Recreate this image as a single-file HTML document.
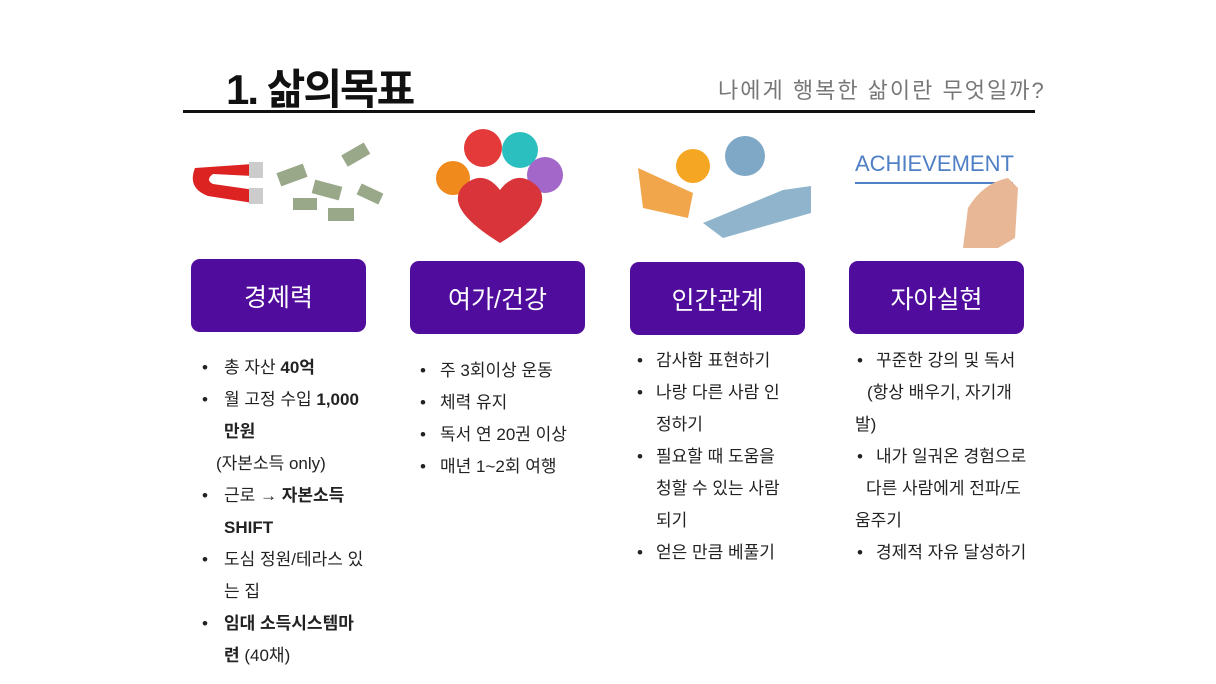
<!DOCTYPE html>
<html><head><meta charset="utf-8"><style>
body{margin:0;width:1216px;height:684px;background:#fff;position:relative;overflow:hidden;font-family:"Liberation Sans","Noto Sans CJK KR",sans-serif;color:#222}
.a{position:absolute}
.box{position:absolute;width:175px;height:73px;background:#500c9c;border-radius:9px;color:#fff;font-size:25px;display:flex;align-items:center;justify-content:center}
.l{position:absolute;font-size:17px;white-space:nowrap;line-height:20px}
.b{position:absolute;font-size:17px;line-height:20px}
</style></head><body>
<div class="a" style="left:226px;top:56px;font-size:42px;font-weight:bold;letter-spacing:-2px;color:#111">1. 삶의목표</div>
<div class="a" style="left:718px;top:73px;font-size:22px;color:#777;letter-spacing:2px">나에게 행복한 삶이란 무엇일까?</div>
<div class="a" style="left:183px;top:110px;width:852px;height:3px;background:#111"></div>

<svg class="a" style="left:183px;top:128px" width="860" height="125">
 <path d="M12 40 Q4 60 25 68 L70 75 L72 62 L30 56 Q22 52 30 46 L70 48 L70 36 Z" fill="#d22"/>
 <rect x="66" y="34" width="14" height="16" fill="#ccc"/><rect x="66" y="60" width="14" height="16" fill="#ccc"/>
 <g fill="#9aa88a"><rect x="95" y="40" width="28" height="14" transform="rotate(-20 109 47)"/><rect x="130" y="55" width="28" height="14" transform="rotate(15 144 62)"/><rect x="160" y="20" width="26" height="13" transform="rotate(-30 173 27)"/><rect x="145" y="80" width="26" height="13"/><rect x="175" y="60" width="24" height="12" transform="rotate(25 187 66)"/><rect x="110" y="70" width="24" height="12"/></g>
 <circle cx="270" cy="50" r="17" fill="#f08a1c"/><circle cx="300" cy="20" r="19" fill="#e53a3a"/><circle cx="337" cy="22" r="18" fill="#2bbfbf"/><circle cx="362" cy="47" r="18" fill="#a267c9"/>
 <path d="M317 115 Q260 80 280 58 Q300 40 317 62 Q334 40 354 58 Q374 80 317 115Z" fill="#d8343a"/>
 <path d="M455 40 L510 65 L505 90 L460 80Z" fill="#f1a64c"/><path d="M520 95 L600 62 L628 58 L628 85 L540 110Z" fill="#8fb4cc"/>
 <circle cx="510" cy="38" r="17" fill="#f5a623"/><circle cx="562" cy="28" r="20" fill="#7fa8c6"/>
 <text x="672" y="43" font-size="22" fill="#4f7fc4" font-family="Liberation Sans">ACHIEVEMENT</text>
 <line x1="672" y1="55" x2="830" y2="55" stroke="#4f7fc4" stroke-width="2"/>
 <path d="M780 120 L785 80 Q800 55 825 50 L835 60 L832 110 L815 120Z" fill="#e8b796"/>
</svg>

<div class="box" style="left:191px;top:259px">경제력</div>
<div class="box" style="left:410px;top:261px">여가/건강</div>
<div class="box" style="left:630px;top:262px">인간관계</div>
<div class="box" style="left:849px;top:261px">자아실현</div>

<div class="b" style="left:202px;top:358px">•</div><div class="l" style="left:224px;top:358px">총 자산 <b>40억</b></div>
<div class="b" style="left:202px;top:390px">•</div><div class="l" style="left:224px;top:390px">월 고정 수입 <b>1,000</b></div>
<div class="l" style="left:224px;top:422px"><b>만원</b></div>
<div class="l" style="left:216px;top:454px">(자본소득 only)</div>
<div class="b" style="left:202px;top:486px">•</div><div class="l" style="left:224px;top:486px">근로 <b>→ 자본소득</b></div>
<div class="l" style="left:224px;top:518px"><b>SHIFT</b></div>
<div class="b" style="left:202px;top:550px">•</div><div class="l" style="left:224px;top:550px">도심 정원/테라스 있</div>
<div class="l" style="left:224px;top:582px">는 집</div>
<div class="b" style="left:202px;top:614px">•</div><div class="l" style="left:224px;top:614px"><b>임대 소득시스템마</b></div>
<div class="l" style="left:224px;top:646px"><b>련</b> (40채)</div>

<div class="b" style="left:420px;top:361px">•</div><div class="l" style="left:440px;top:361px">주 3회이상 운동</div>
<div class="b" style="left:420px;top:393px">•</div><div class="l" style="left:440px;top:393px">체력 유지</div>
<div class="b" style="left:420px;top:425px">•</div><div class="l" style="left:440px;top:425px">독서 연 20권 이상</div>
<div class="b" style="left:420px;top:457px">•</div><div class="l" style="left:440px;top:457px">매년 1~2회 여행</div>

<div class="b" style="left:637px;top:351px">•</div><div class="l" style="left:656px;top:351px">감사함 표현하기</div>
<div class="b" style="left:637px;top:383px">•</div><div class="l" style="left:656px;top:383px">나랑 다른 사람 인</div>
<div class="l" style="left:656px;top:415px">정하기</div>
<div class="b" style="left:637px;top:447px">•</div><div class="l" style="left:656px;top:447px">필요할 때 도움을</div>
<div class="l" style="left:656px;top:479px">청할 수 있는 사람</div>
<div class="l" style="left:656px;top:511px">되기</div>
<div class="b" style="left:637px;top:543px">•</div><div class="l" style="left:656px;top:543px">얻은 만큼 베풀기</div>

<div class="b" style="left:857px;top:351px">•</div><div class="l" style="left:876px;top:351px">꾸준한 강의 및 독서</div>
<div class="l" style="left:867px;top:383px">(항상 배우기, 자기개</div>
<div class="l" style="left:855px;top:415px">발)</div>
<div class="b" style="left:857px;top:447px">•</div><div class="l" style="left:876px;top:447px">내가 일궈온 경험으로</div>
<div class="l" style="left:866px;top:479px">다른 사람에게 전파/도</div>
<div class="l" style="left:855px;top:511px">움주기</div>
<div class="b" style="left:857px;top:543px">•</div><div class="l" style="left:876px;top:543px">경제적 자유 달성하기</div>
</body></html>
